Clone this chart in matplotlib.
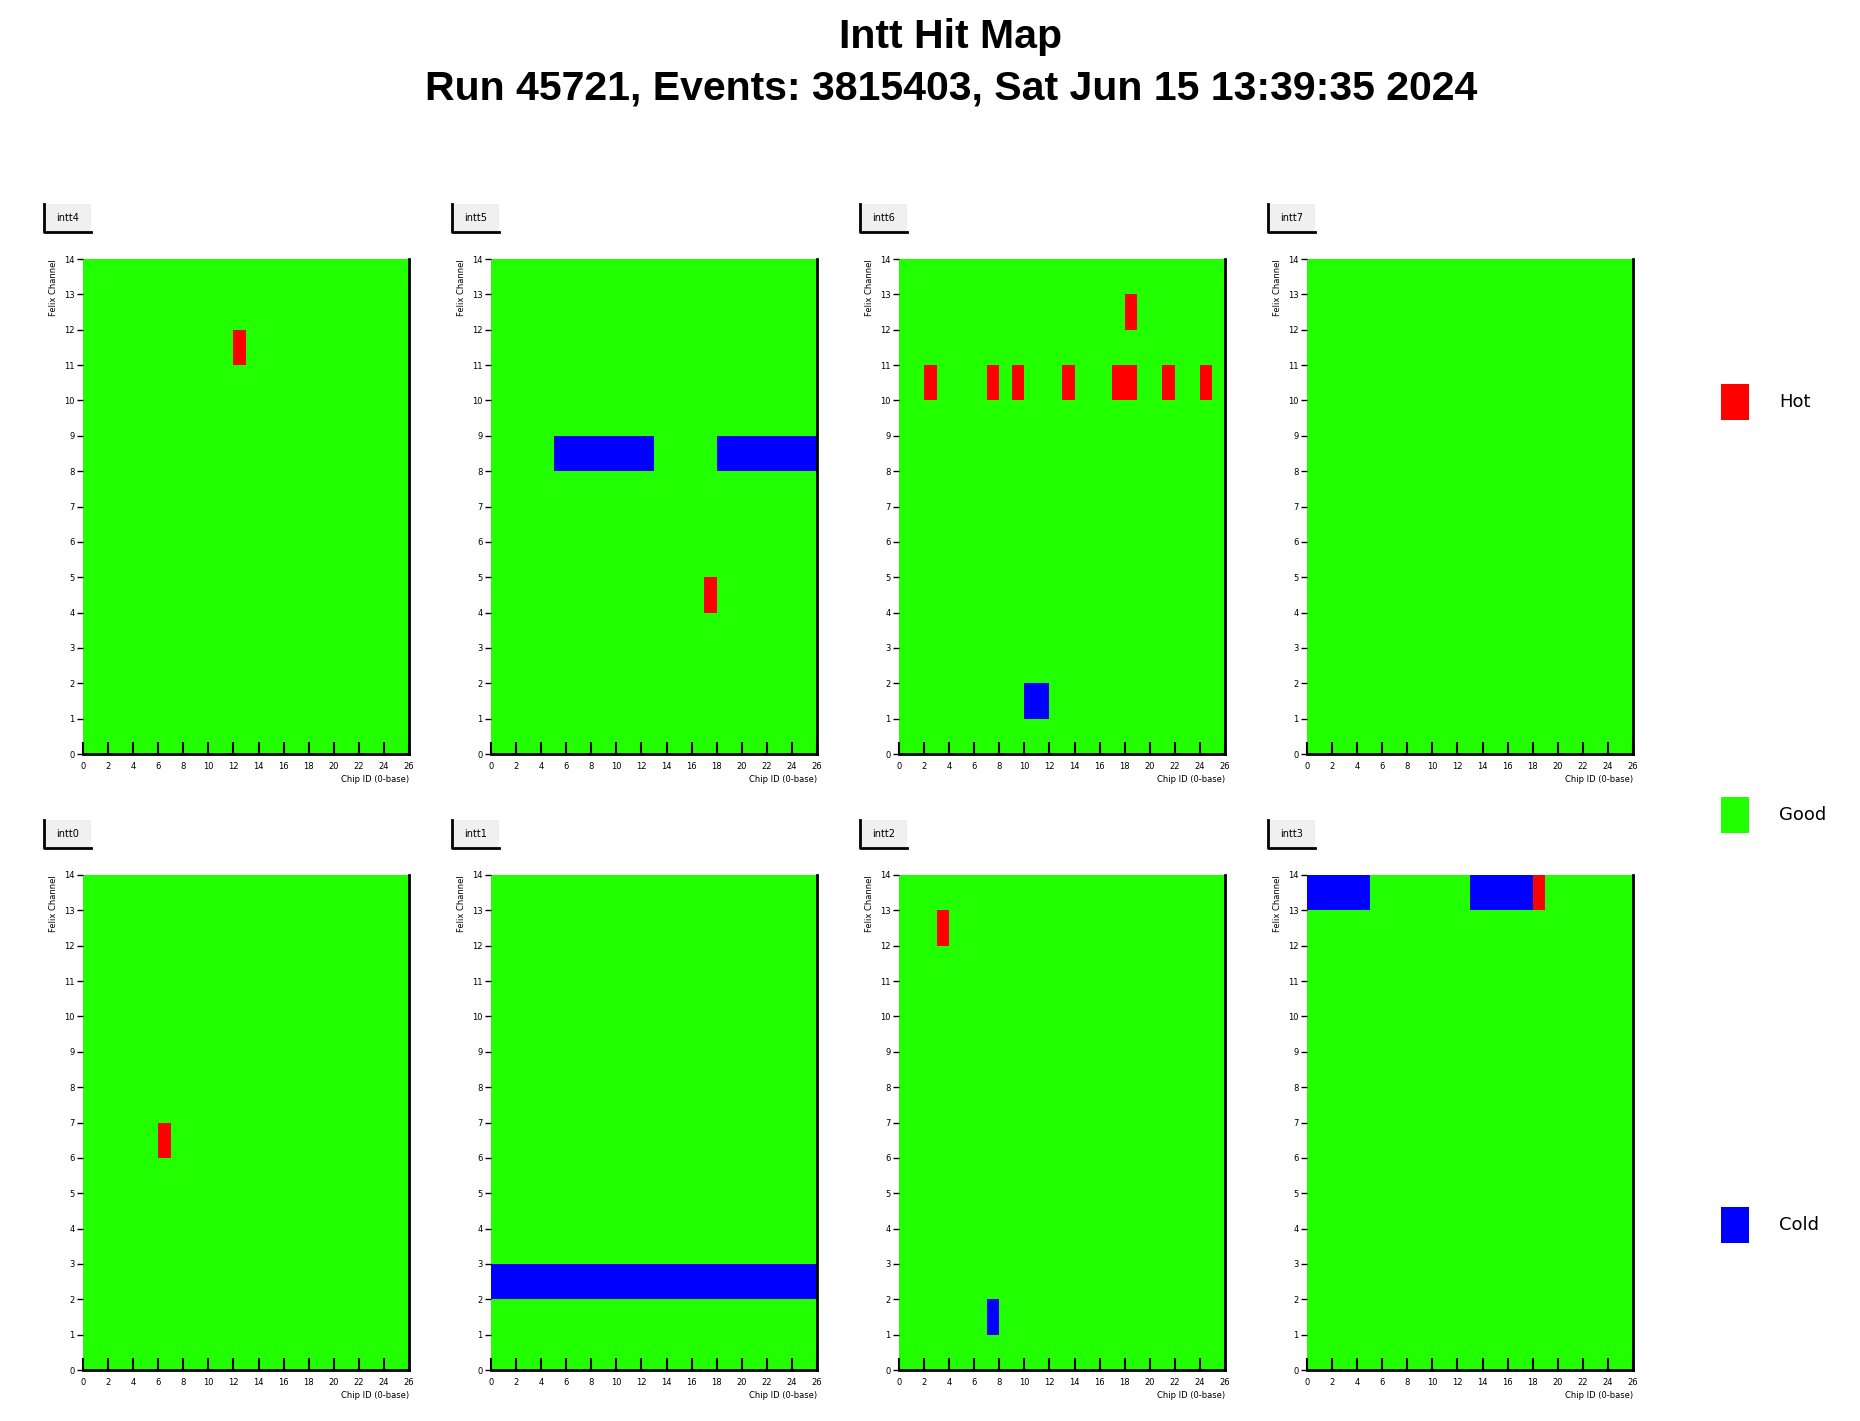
import numpy as np
import matplotlib.pyplot as plt
from matplotlib.colors import ListedColormap
from matplotlib.patches import Rectangle
from matplotlib.lines import Line2D

# Hit map status: 0 = cold, 1 = good, 2 = hot
n_chips = 26
n_channels = 14

panel_names = ["intt4", "intt5", "intt6", "intt7",
               "intt0", "intt1", "intt2", "intt3"]

# (chip, channel) cells
hot_cells = {
    "intt4": [(12, 11)],
    "intt5": [(17, 4)],
    "intt6": [(2, 10), (7, 10), (9, 10), (13, 10), (17, 10), (18, 10),
              (21, 10), (24, 10), (18, 12)],
    "intt7": [],
    "intt0": [(6, 6)],
    "intt1": [],
    "intt2": [(3, 12)],
    "intt3": [(18, 13)],
}
cold_cells = {
    "intt4": [],
    "intt5": [(c, 8) for c in range(5, 13)] + [(c, 8) for c in range(18, 26)],
    "intt6": [(10, 1), (11, 1)],
    "intt7": [],
    "intt0": [],
    "intt1": [(c, 2) for c in range(0, 26)],
    "intt2": [(7, 1)],
    "intt3": [(c, 13) for c in range(0, 5)] + [(c, 13) for c in range(13, 18)],
}

status_labels = ["Hot", "Good", "Cold"]
status_colors = ["#ff0000", "#22ff00", "#0000ff"]

cmap = ListedColormap([status_colors[2], status_colors[1], status_colors[0]])

W, H = 1860, 1421
fig = plt.figure(figsize=(W / 100, H / 100), dpi=100)
sans = ["Liberation Sans", "DejaVu Sans"]

fig.text(951 / W, 1 - 37 / H, "Intt Hit Map", ha="center", va="center",
         fontsize=29.5, fontweight="bold", family=sans)
fig.text(951 / W, 1 - 89 / H, "Run 45721, Events: 3815403, Sat Jun 15 13:39:35 2024",
         ha="center", va="center", fontsize=29.5, fontweight="bold", family=sans)

col_left = [83, 491, 899, 1307]
row_top = [259, 875]
pw, ph = 326, 495

for k, name in enumerate(panel_names):
    r, c = divmod(k, 4)
    x0, y0 = col_left[c], row_top[r]
    ax = fig.add_axes([x0 / W, 1 - (y0 + ph) / H, pw / W, ph / H])
    grid = np.ones((n_channels, n_chips))
    for (ch, fx) in cold_cells[name]:
        grid[fx, ch] = 0
    for (ch, fx) in hot_cells[name]:
        grid[fx, ch] = 2
    ax.pcolormesh(np.arange(n_chips + 1), np.arange(n_channels + 1), grid,
                  cmap=cmap, vmin=-0.5, vmax=2.5)
    ax.set_xlim(0, n_chips)
    ax.set_ylim(0, n_channels)
    ax.set_xticks(np.arange(0, n_chips + 1, 2))
    ax.set_yticks(np.arange(0, n_channels + 1, 1))
    ax.tick_params(axis="x", direction="in", length=9, width=1.5, labelsize=6, pad=6)
    ax.tick_params(axis="y", direction="out", length=4, width=1, labelsize=6, pad=2)
    for s in ["left", "top"]:
        ax.spines[s].set_visible(False)
    for s in ["right", "bottom"]:
        ax.spines[s].set_linewidth(2)
    ax.set_xlabel("Chip ID (0-base)", fontsize=6, loc="right", labelpad=3)
    ax.set_ylabel("Felix Channel", fontsize=6, loc="top", labelpad=4)

    # panel title box
    bx, by, bw, bh = x0 - 39, y0 - 55, 47, 28
    fig.patches.append(Rectangle((bx / W, 1 - (by + bh) / H), bw / W, bh / H,
                                 transform=fig.transFigure, facecolor="#f0f0f0",
                                 edgecolor="none"))
    fig.lines.append(Line2D([bx / W, bx / W, (bx + bw) / W],
                            [1 - by / H, 1 - (by + bh) / H, 1 - (by + bh) / H],
                            transform=fig.transFigure, color="black", lw=2))
    fig.text((bx + bw / 2) / W, 1 - (by + bh / 2) / H, name, ha="center",
             va="center", fontsize=7)

# legend
leg_y = [402, 815, 1225]
for lab, col, yc in zip(status_labels, status_colors, leg_y):
    fig.patches.append(Rectangle((1721 / W, 1 - (yc + 18) / H), 28 / W, 36 / H,
                                 transform=fig.transFigure, facecolor=col,
                                 edgecolor="none"))
    fig.text(1779 / W, 1 - yc / H, lab, ha="left", va="center", fontsize=13)

fig.savefig("out.png", dpi=100, facecolor="white")
